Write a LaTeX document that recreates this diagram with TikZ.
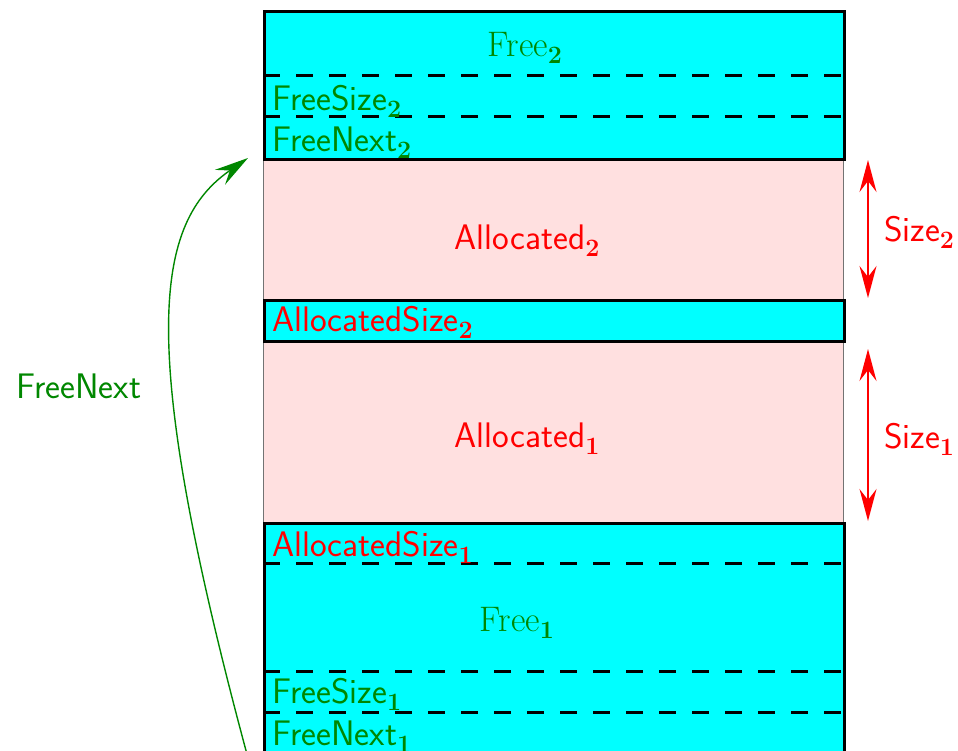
\documentclass[tikz,border=0pt]{standalone}
\usetikzlibrary{arrows.meta}
\definecolor{mycyan}{RGB}{0,255,255}
\definecolor{mypink}{RGB}{255,224,224}
\definecolor{mygreen}{RGB}{0,135,0}
\definecolor{myred}{RGB}{255,0,0}
\newcommand\subidx[1]{\raisebox{-0.2em}{\fontsize{25}{30}\selectfont\rmfamily\bfseries #1}}
\begin{document}
\begin{tikzpicture}[x=1pt,y=-1pt,
  font=\fontsize{35.5}{42}\selectfont\sffamily,
  freebox/.style={fill=mycyan, draw=black, line width=2.5pt, inner sep=0pt, anchor=north west, minimum width=580pt},
  allocbox/.style={fill=mypink, draw=black!55, line width=1.2pt, inner sep=0pt, anchor=north west, minimum width=580pt},
  sepline/.style={draw=black, line width=3pt, dash pattern=on 17pt off 16pt},
  lbl/.style={inner sep=0pt, anchor=base west},
  ctr/.style={inner sep=0pt, anchor=base},
  sizearrow/.style={draw=myred, line width=1.8pt, {Stealth[length=32pt,width=17pt,inset=11pt]}-{Stealth[length=32pt,width=17pt,inset=11pt]}},
  nextarrow/.style={draw=mygreen, line width=1.4pt, -{Stealth[length=34pt,width=18pt,inset=12pt]}}
]
\useasboundingbox (0,0) rectangle (958,750);
\clip (0,0) rectangle (958,750);
% allocated (pink) blocks
\node[allocbox, minimum height=141pt] (a2) at (263,158) {};
\node[allocbox, minimum height=182pt] (a1) at (263,340) {};
% free / header (cyan) blocks
\node[freebox, minimum height=148pt] (f2) at (263,10) {};
\node[freebox, minimum height=41pt] (h2) at (263,299) {};
\node[freebox, minimum height=260pt] (f1) at (263,522) {};
% separators
\draw[sepline] (263,75) -- (843,75);
\draw[sepline] (263,116) -- (843,116);
\draw[sepline] (263,563) -- (843,563);
\draw[sepline] (263,671) -- (843,671);
\draw[sepline] (263,712) -- (843,712);
% texts
\node[ctr, text=mygreen] (tf2) at (525,56) {\rmfamily Free\subidx{2}};
\node[lbl, text=mygreen] (tfs2) at (272,110) {FreeSize\subidx{2}};
\node[lbl, text=mygreen] (tfn2) at (272,151) {FreeNext\subidx{2}};
\node[ctr, text=myred] (ta2) at (527,249) {Allocated\subidx{2}};
\node[lbl, text=myred] (tas2) at (272,331) {AllocatedSize\subidx{2}};
\node[ctr, text=myred] (ta1) at (527,447) {Allocated\subidx{1}};
\node[lbl, text=myred] (tas1) at (272,556) {AllocatedSize\subidx{1}};
\node[ctr, text=mygreen] (tf1) at (517,631) {\rmfamily Free\subidx{1}};
\node[lbl, text=mygreen] (tfs1) at (272,703) {FreeSize\subidx{1}};
\node[lbl, text=mygreen] (tfn1) at (272,745) {FreeNext\subidx{1}};
% size arrows
\coordinate (s2t) at (868,160);
\coordinate (s2b) at (868,298);
\coordinate (s1t) at (868,349);
\coordinate (s1b) at (868,521);
\draw[sizearrow] (s2t) -- (s2b);
\draw[sizearrow] (s1t) -- (s1b);
\node[lbl, text=myred] (ts2) at (884,241) {Size\subidx{2}};
\node[lbl, text=myred] (ts1) at (884,448) {Size\subidx{1}};
% free-next link
\coordinate (fnstart) at (248,758);
\coordinate (fnend) at (248,158);
\draw[nextarrow] (fnstart) .. controls (135,340) and (155,222) .. (fnend);
\node[lbl, text=mygreen] (tfn) at (16,398) {FreeNext};
\end{tikzpicture}
\end{document}
